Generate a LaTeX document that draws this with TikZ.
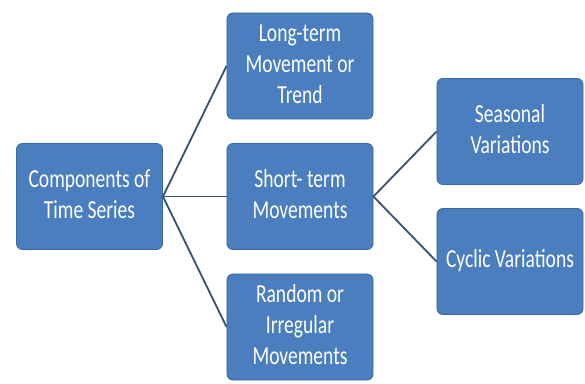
\documentclass[tikz,border=0pt]{standalone}
\usepackage{fontspec}
\usepackage{graphicx}
\setmainfont{Carlito}
\usetikzlibrary{positioning}
\definecolor{boxfill}{HTML}{4A7EBE}
\definecolor{boxline}{HTML}{3C699F}
\definecolor{link}{HTML}{3A5270}
% tall lettering, as in the slide
\newcommand{\tall}[1]{\scalebox{1}[1.33]{\begin{tabular}{@{}c@{}}#1\end{tabular}}}

\begin{document}
\begin{tikzpicture}[x=0.025cm, y=-0.025cm,
    every node/.style={font=\fontsize{13.9}{16.5}\selectfont, text=white},
    part/.style={draw=boxline, line width=0.6pt, fill=boxfill, rounded corners=0.15cm,
      minimum width=3.65cm, minimum height=2.65cm, inner sep=0pt},
    branch/.style={draw=link, line width=1.3pt}]
        \useasboundingbox (0,0) rectangle (585,383);
        \node[part] (root) at (89.5,196.5) {\tall{Components of\\Time Series}};
        \node[part] (long) at (300,66) {\tall{Long-term\\Movement or\\Trend}};
        \node[part] (short) at (300,196.5) {\tall{Short- term\\Movements}};
        \node[part] (rand) at (300,327) {\tall{Random or\\Irregular\\Movements}};
        \node[part] (seas) at (510,131.5) {\tall{Seasonal\\Variations}};
        \node[part] (cycl) at (510,261.5) {\tall{Cyclic Variations}};
        \foreach \to in {long, short, rand}
          \draw[branch] (root.east) -- (\to.west);
        \foreach \to in {seas, cycl}
          \draw[branch] (short.east) -- (\to.west);
      \end{tikzpicture}
\end{document}
